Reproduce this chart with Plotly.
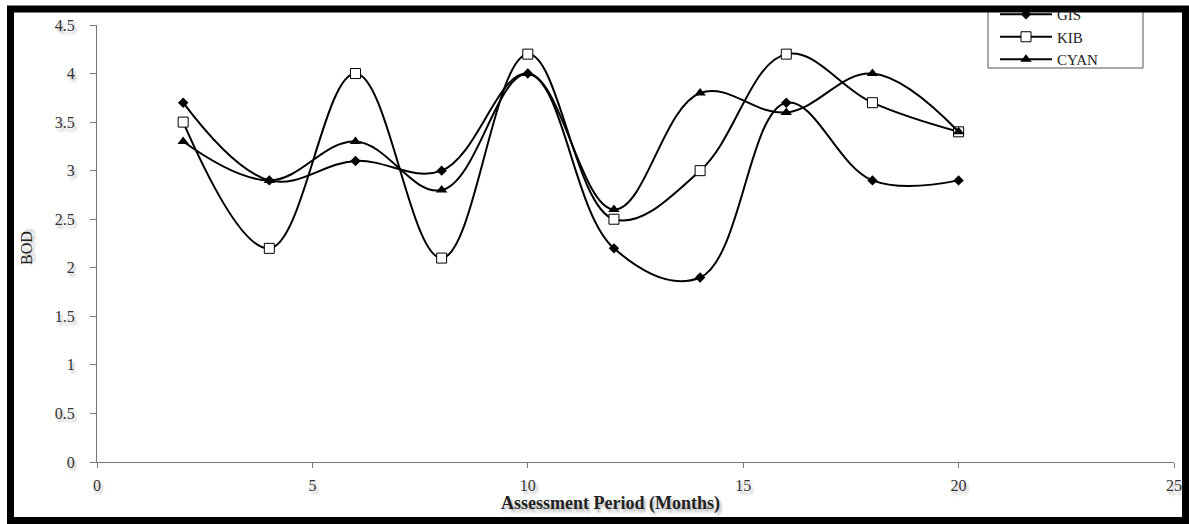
import plotly.graph_objects as go

# Assessment months
months = [2, 4, 6, 8, 10, 12, 14, 16, 18, 20]

# BOD readings per site
gis = [3.7, 2.9, 3.1, 3.0, 4.0, 2.2, 1.9, 3.7, 2.9, 2.9]
kib = [3.5, 2.2, 4.0, 2.1, 4.2, 2.5, 3.0, 4.2, 3.7, 3.4]
cyan = [3.3, 2.9, 3.3, 2.8, 4.0, 2.6, 3.8, 3.6, 4.0, 3.4]

W, H = 1189, 524
ML, MR, MT, MB = 97, 15, 25, 62
PW, PH = W - ML - MR, H - MT - MB


def px_x(p):
    return (p - ML) / PW


def px_y(p):
    return (H - MB - p) / PH


serif = "Liberation Serif, Times New Roman, serif"
shadow = "2px 3px 3px rgba(0,0,0,0.3)"

fig = go.Figure()
series = [
    ("GIS", gis, dict(symbol="diamond", size=8, color="black")),
    ("KIB", kib, dict(symbol="square", size=10, color="white",
                      line=dict(color="black", width=1))),
    ("CYAN", cyan, dict(symbol="triangle-up", size=10, color="black")),
]
for name, vals, mk in series:
    fig.add_trace(go.Scatter(
        x=months, y=vals, name=name, mode="lines+markers",
        line=dict(color="black", width=2, shape="spline", smoothing=1.1),
        marker=mk,
    ))

fig.update_layout(
    width=W, height=H,
    margin=dict(l=ML, r=MR, t=MT, b=MB, autoexpand=False),
    paper_bgcolor="white", plot_bgcolor="white",
    font=dict(family=serif, size=15, color="#333"),
    showlegend=True,
    legend=dict(
        x=px_x(995), y=px_y(-2), xanchor="left", yanchor="top",
        bgcolor="rgba(0,0,0,0)", borderwidth=0,
        font=dict(family=serif, size=15, color="#222"),
        tracegroupgap=0, itemwidth=52,
    ),
    xaxis=dict(
        range=[0, 25], tickvals=[0, 5, 10, 15, 20, 25],
        showgrid=False, zeroline=False,
        showline=True, linecolor="#777", linewidth=1,
        ticks="outside", ticklen=5, tickcolor="#777",
        ticklabelstandoff=4,
        tickfont=dict(family=serif, size=16, color="#333", shadow=shadow),
    ),
    yaxis=dict(
        range=[0, 4.5], tickvals=[0, 0.5, 1, 1.5, 2, 2.5, 3, 3.5, 4, 4.5],
        ticktext=["0", "0.5", "1", "1.5", "2", "2.5", "3", "3.5", "4", "4.5"],
        showgrid=False, zeroline=False,
        showline=True, linecolor="#777", linewidth=1,
        ticks="outside", ticklen=6, tickcolor="#777",
        ticklabelstandoff=12,
        tickfont=dict(family=serif, size=16, color="#333", shadow=shadow),
    ),
)

# axis titles placed where the original puts them
fig.add_annotation(
    text="<b>Assessment Period (Months)</b>", xref="paper", yref="paper",
    x=px_x(610), y=px_y(503), xanchor="center", yanchor="middle",
    showarrow=False,
    font=dict(family=serif, size=18, color="#222", shadow=shadow),
)
fig.add_annotation(
    text="BOD", xref="paper", yref="paper", textangle=-90,
    x=px_x(26), y=px_y(248), xanchor="center", yanchor="middle",
    showarrow=False,
    font=dict(family=serif, size=16, color="#222", shadow=shadow),
)

# legend box (its top runs under the frame, as in the original)
fig.add_shape(
    type="rect", xref="paper", yref="paper",
    x0=px_x(988), x1=px_x(1143), y0=px_y(68), y1=px_y(9),
    line=dict(color="#555", width=1), fillcolor="white",
)

# thick picture frame
fig.add_shape(
    type="rect", xref="paper", yref="paper",
    x0=px_x(10.5), x1=px_x(1185.5), y0=px_y(520.5), y1=px_y(9),
    line=dict(color="black", width=7), fillcolor="rgba(0,0,0,0)",
)

fig.write_html(
    "out.html",
    config={"displayModeBar": False},
    post_script="document.body.style.margin='0';document.body.style.overflow='hidden';",
)
